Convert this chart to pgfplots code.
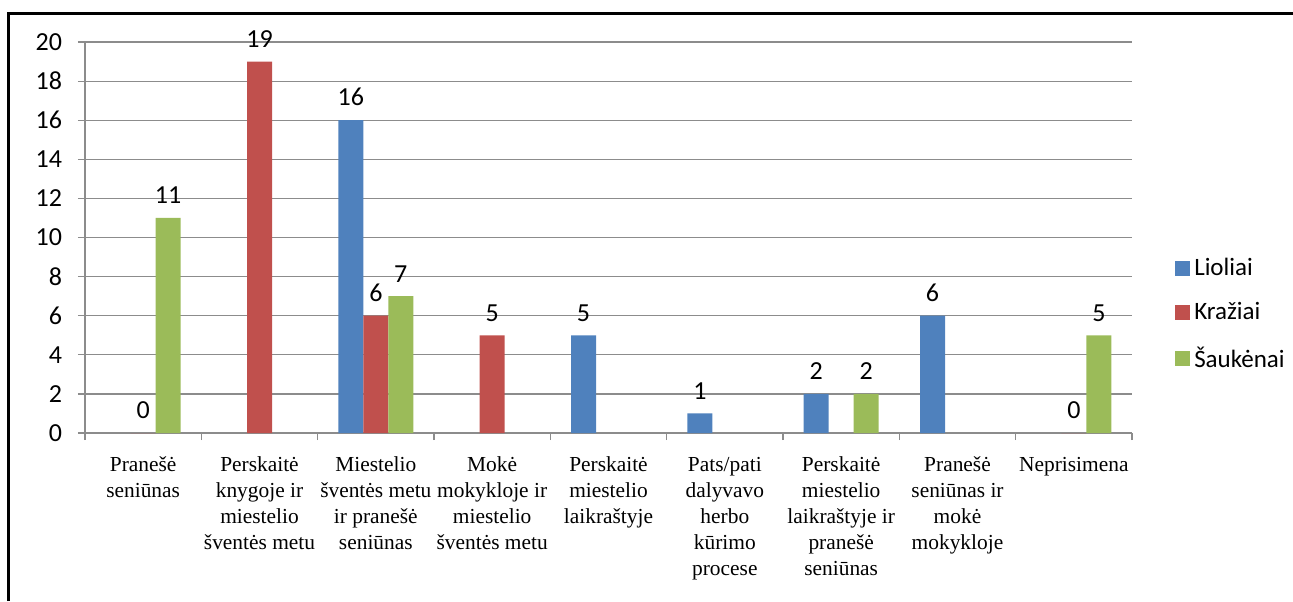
\documentclass[border=0pt]{standalone}
\usepackage{pgfplots}
\pgfplotsset{compat=1.18}
\usepackage{fontspec}
\setmainfont{Liberation Serif}
\newfontfamily\calibri{Carlito}

\definecolor{lioliai}{HTML}{4F81BD}
\definecolor{kraziai}{HTML}{C0504D}
\definecolor{saukenai}{HTML}{9BBB59}
\definecolor{gridgray}{HTML}{8C8C8C}

\begin{document}
\begin{tikzpicture}
% 1 px of the reference = 0.5pt, origin at the axis' lower left corner
\useasboundingbox (-42.5pt,-84pt) rectangle (604pt,216.5pt);
\draw[line width=1.5pt] (-38pt,-84pt) -- (-38pt,210pt) -- (604pt,210pt);
\begin{axis}[
	scale only axis,
	width=523.5pt,
	height=195.5pt,
	ybar=0pt,
	bar width=12.5pt,
	ymin=0, ymax=20,
	xmin=-0.5, xmax=8.5,
	ytick={0,2,...,20},
	xtick={0,...,8},
	minor xtick={-0.5,0.5,...,8.5},
	axis x line*=bottom,
	axis y line*=left,
	axis line style={gridgray, line width=0.6pt},
	ymajorgrids,
	grid style={gridgray, line width=0.6pt},
	tick align=outside,
	major tick length=3.5pt,
	minor tick length=3.5pt,
	tick style={gridgray, line width=0.6pt},
	xtick style={draw=none},
	minor x tick style={draw=gridgray, line width=0.6pt},
	/pgf/number format/assume math mode=true,
	yticklabel style={font=\calibri\fontsize{13}{15}\selectfont, xshift=-4.5pt},
	xticklabel style={font=\fontsize{10.7}{13}\selectfont, align=center, anchor=north, yshift=-5pt},
	xticklabels={
		Pranešė\\seniūnas,
		Perskaitė\\knygoje ir\\miestelio\\šventės metu,
		Miestelio\\šventės metu\\ir pranešė\\seniūnas,
		Mokė\\mokykloje ir\\miestelio\\šventės metu,
		Perskaitė\\miestelio\\laikraštyje,
		Pats/pati\\dalyvavo\\herbo\\kūrimo\\procese,
		Perskaitė\\miestelio\\laikraštyje ir\\pranešė\\seniūnas,
		Pranešė\\seniūnas ir\\mokė\\mokykloje,
		Neprisimena},
	nodes near coords,
	nodes near coords style={font=\calibri\fontsize{13}{15}\selectfont, black, anchor=south, yshift=3.5pt},
	legend style={at={(1.035,0.304)}, anchor=west, draw=none, fill=none,
		font=\calibri\fontsize{12.5}{15}\selectfont, row sep=8pt,
		/tikz/every even column/.append style={column sep=2pt}},
	legend cell align=left,
	legend image code/.code={\fill[#1] (0pt,-3.8pt) rectangle (7.6pt,3.8pt);},
	]
\addplot[fill=lioliai, draw=none] coordinates {(2,16) (4,5) (5,1) (6,2) (7,6)};
\addplot[fill=kraziai, draw=none] coordinates {(0,0) (1,19) (2,6) (3,5) (8,0)};
\addplot[fill=saukenai, draw=none] coordinates {(0,11) (2,7) (6,2) (8,5)};
\legend{Lioliai, Kražiai, Šaukėnai}
\end{axis}
\end{tikzpicture}
\end{document}
